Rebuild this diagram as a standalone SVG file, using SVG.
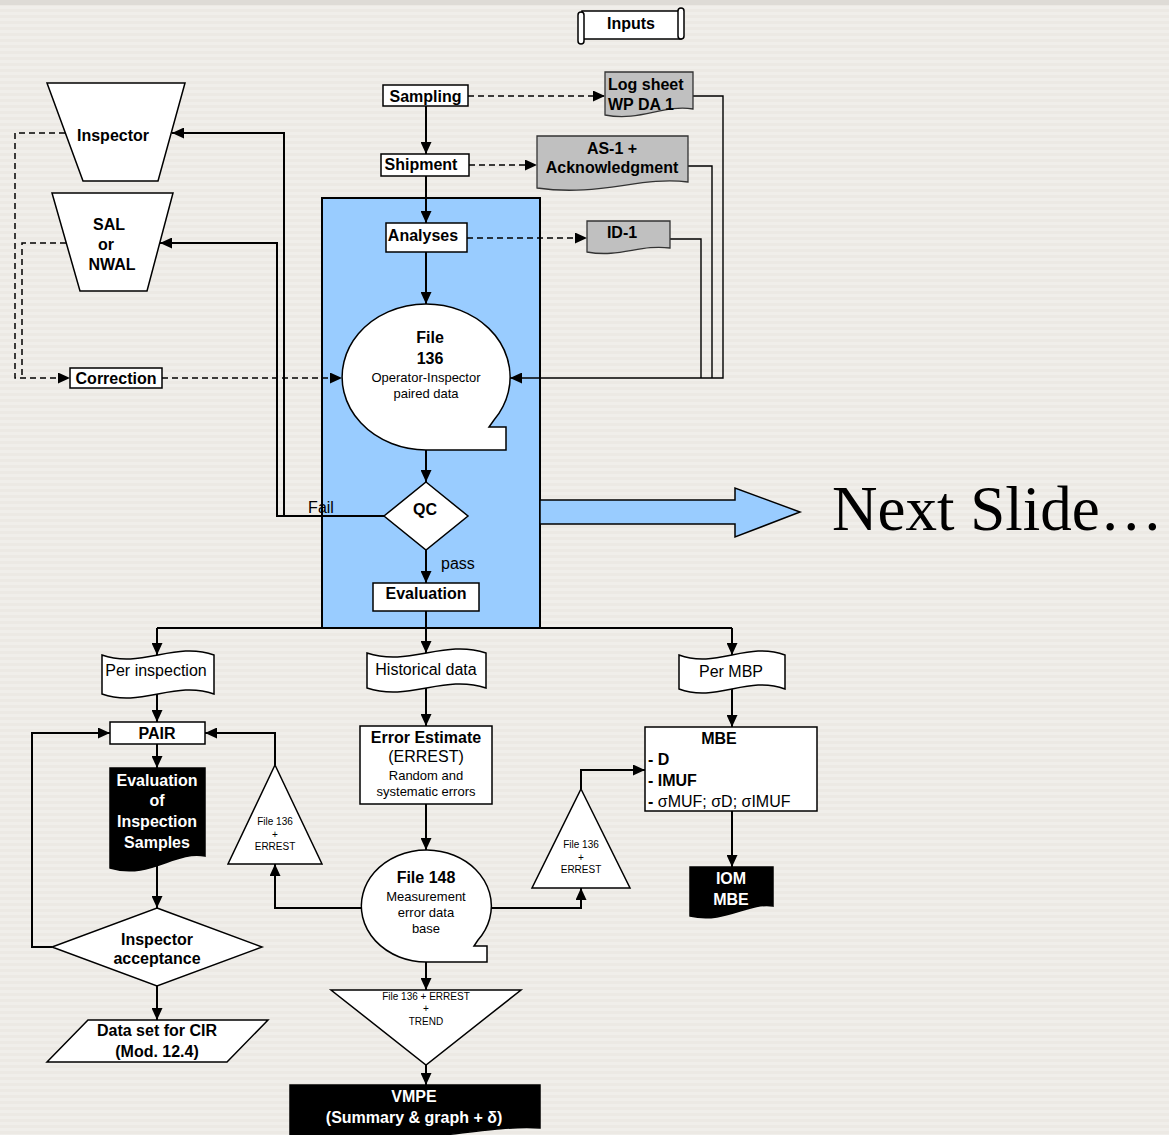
<svg xmlns="http://www.w3.org/2000/svg" width="1169" height="1135" viewBox="0 0 1169 1135">
  <defs>
    <pattern id="stripes" x="0" y="0" width="8" height="6" patternUnits="userSpaceOnUse">
      <rect width="8" height="6" fill="#ECE9E4"/>
      <rect y="0" width="8" height="3" fill="#F0EEEA"/>
    </pattern>
    <marker id="arr" markerUnits="userSpaceOnUse" markerWidth="13" markerHeight="11" refX="12" refY="5.5" orient="auto">
      <path d="M0,0 L12,5.5 L0,11 Z" fill="#000"/>
    </marker>
    <style>
      text { font-family: "Liberation Sans", Arial, sans-serif; fill: #000; text-anchor: middle; }
      .b16 { font-size: 16px; font-weight: bold; }
      .r16 { font-size: 16px; }
      .r13 { font-size: 13px; }
      .r10 { font-size: 10px; }
      .w16 { font-size: 16px; font-weight: bold; fill: #fff; }
      .l { text-anchor: start; }
      .box { fill: #fff; stroke: #000; stroke-width: 1.5; }
      .grey { fill: #C0C0C0; stroke: #333; stroke-width: 1.3; }
      .dark { fill: #000; stroke: #000; stroke-width: 1.5; }
      .c { fill: none; stroke: #000; stroke-width: 2; }
      .t { fill: none; stroke: #000; stroke-width: 1.4; }
      .d { fill: none; stroke: #000; stroke-width: 1.5; stroke-dasharray: 6 4; }
    </style>
  </defs>

  <!-- backdrop -->
  <rect width="1169" height="1135" fill="url(#stripes)"/>
  <rect width="1169" height="5" fill="#DEDBD6"/>

  <!-- process container -->
  <g id="process-area">
    <rect x="322" y="198" width="218" height="430" fill="#99CCFF" stroke="#000" stroke-width="2"/>
  </g>

  <!-- arrow to the next slide -->
  <g id="next-slide">
    <path d="M540,500 H735 V488 L800,512 L735,537 V524 H540 Z" fill="#99CCFF" stroke="#000" stroke-width="1.5"/>
    <text x="832" y="530" style="font-family:'Liberation Serif','Times New Roman',serif;font-size:63px;text-anchor:start">Next Slide…</text>
  </g>

  <!-- connectors -->
  <g id="connectors">
    <path class="c" d="M426,106 V154" marker-end="url(#arr)"/>
    <path class="c" d="M426,176 V223" marker-end="url(#arr)"/>
    <path class="c" d="M426,252 V304" marker-end="url(#arr)"/>
    <path class="c" d="M426,450 V482" marker-end="url(#arr)"/>
    <path class="c" d="M426,550 V583" marker-end="url(#arr)"/>
    <path class="c" d="M426,611 V628"/>
    <path class="c" d="M157,628 H732"/>
    <path class="c" d="M157,628 V655" marker-end="url(#arr)"/>
    <path class="c" d="M426,628 V653" marker-end="url(#arr)"/>
    <path class="c" d="M732,628 V655" marker-end="url(#arr)"/>
    <path class="c" d="M157,694 V722" marker-end="url(#arr)"/>
    <path class="c" d="M157,744 V768" marker-end="url(#arr)"/>
    <path class="c" d="M157,866 V908" marker-end="url(#arr)"/>
    <path class="c" d="M52,947 H32 V733 H110" marker-end="url(#arr)"/>
    <path class="c" d="M157,986 V1020" marker-end="url(#arr)"/>
    <path class="c" d="M275,765 V733 H205" marker-end="url(#arr)"/>
    <path class="c" d="M361,908 H275 V864" marker-end="url(#arr)"/>
    <path class="c" d="M426,688 V726" marker-end="url(#arr)"/>
    <path class="c" d="M426,804 V850" marker-end="url(#arr)"/>
    <path class="c" d="M491,908 H581 V888" marker-end="url(#arr)"/>
    <path class="c" d="M581,789 V770 H645" marker-end="url(#arr)"/>
    <path class="c" d="M732,689 V727" marker-end="url(#arr)"/>
    <path class="c" d="M732,811 V867" marker-end="url(#arr)"/>
    <path class="c" d="M426,962 V990" marker-end="url(#arr)"/>
    <path class="c" d="M426,1065 V1085" marker-end="url(#arr)"/>
    <!-- QC fail returns -->
    <path class="c" d="M384,516 H277 V243 H160" marker-end="url(#arr)"/>
    <path class="c" d="M284,516 V133 H172" marker-end="url(#arr)"/>
    <!-- input documents feeding File 136 -->
    <path class="t" d="M693,96 H723 V378 H510" marker-end="url(#arr)"/>
    <path class="t" d="M688,166 H712 V378"/>
    <path class="t" d="M670,239 H701 V378"/>
    <!-- dashed flows -->
    <path class="d" d="M468,96 H605" marker-end="url(#arr)"/>
    <path class="d" d="M469,165 H537" marker-end="url(#arr)"/>
    <path class="d" d="M467,238 H587" marker-end="url(#arr)"/>
    <path class="d" d="M65,133 H15 V378 H70" marker-end="url(#arr)"/>
    <path class="d" d="M66,243 H22 V378"/>
    <path class="d" d="M162,378 H342" marker-end="url(#arr)"/>
  </g>

  <g id="inputs">
    <rect x="582" y="11" width="99" height="28" class="box"/>
    <rect x="678" y="8" width="6" height="31" rx="3" class="box"/>
    <rect x="578" y="12" width="6" height="32" rx="3" class="box"/>
    <text x="631" y="28.5" class="b16">Inputs</text>
  </g>

  <g id="sampling">
    <rect x="383" y="85" width="85" height="21" class="box"/>
    <text x="425.5" y="101.5" class="b16">Sampling</text>
  </g>

  <g id="log-sheet">
    <path class="grey" d="M605,72 H693 V109 C664,104 640,122 605,115 Z"/>
    <text x="608" y="90" class="b16 l">Log sheet</text>
    <text x="608" y="110" class="b16 l">WP DA 1</text>
  </g>

  <g id="shipment">
    <rect x="381" y="154" width="88" height="22" class="box"/>
    <text x="421" y="170" class="b16">Shipment</text>
  </g>

  <g id="as1">
    <path class="grey" d="M537,136 H688 V182 C640,176 600,197 537,188 Z"/>
    <text x="612" y="154" class="b16">AS-1 +</text>
    <text x="612" y="173" class="b16">Acknowledgment</text>
  </g>

  <g id="analyses">
    <rect x="386" y="223" width="81" height="29" class="box"/>
    <text x="423" y="241" class="b16">Analyses</text>
  </g>

  <g id="id1">
    <path class="grey" d="M587,221 H670 V248 C640,244 620,258 587,252 Z"/>
    <text x="622" y="238" class="b16">ID-1</text>
  </g>

  <g id="inspector">
    <polygon class="box" points="47,83 185,83 158,181 83,181"/>
    <text x="113" y="141" class="b16">Inspector</text>
  </g>

  <g id="sal-nwal">
    <polygon class="box" points="52,193 173,193 147,291 80,291"/>
    <text x="109" y="230" class="b16">SAL</text>
    <text x="106" y="250" class="b16">or</text>
    <text x="112" y="270" class="b16">NWAL</text>
  </g>

  <g id="correction">
    <rect x="70" y="368" width="92" height="20" class="box"/>
    <text x="116" y="384" class="b16">Correction</text>
  </g>

  <g id="file-136">
    <path class="box" d="M426,450 A84,73 0 1 1 494,420 L489,427 L506,427 L506,450 Z"/>
    <text x="430" y="343" class="b16">File</text>
    <text x="430" y="364" class="b16">136</text>
    <text x="426" y="382" class="r13">Operator-Inspector</text>
    <text x="426" y="398" class="r13">paired data</text>
  </g>

  <g id="qc">
    <polygon class="box" points="426,482 468,516 426,550 384,516"/>
    <text x="425" y="515" class="b16">QC</text>
  </g>
  <text x="321" y="513" class="r16">Fail</text>
  <text x="441" y="569" class="r16 l">pass</text>

  <g id="evaluation">
    <rect x="373" y="583" width="106" height="28" class="box"/>
    <text x="426" y="599" class="b16">Evaluation</text>
  </g>

  <g id="per-inspection">
    <path class="box" d="M102,655 C141,669 175,641 214,655 V694 C175,680 141,708 102,694 Z"/>
    <text x="156" y="676" class="r16">Per inspection</text>
  </g>

  <g id="historical-data">
    <path class="box" d="M367,653 C409,667 444,639 486,653 V688 C444,674 409,702 367,688 Z"/>
    <text x="426" y="675" class="r16">Historical data</text>
  </g>

  <g id="per-mbp">
    <path class="box" d="M679,655 C716,669 748,641 785,655 V689 C748,675 716,703 679,689 Z"/>
    <text x="731" y="677" class="r16">Per MBP</text>
  </g>

  <g id="pair">
    <rect x="110" y="722" width="95" height="22" class="box"/>
    <text x="157" y="738.5" class="b16">PAIR</text>
  </g>

  <g id="evaluation-inspection-samples">
    <path class="dark" d="M110,768 H205 V856 C175,850 150,880 110,868 Z"/>
    <text x="157" y="786" class="w16">Evaluation</text>
    <text x="157" y="806" class="w16">of</text>
    <text x="157" y="827" class="w16">Inspection</text>
    <text x="157" y="848" class="w16">Samples</text>
  </g>

  <g id="inspector-acceptance">
    <polygon class="box" points="157,908 262,947 157,986 52,947"/>
    <text x="157" y="944.5" class="b16">Inspector</text>
    <text x="157" y="964" class="b16">acceptance</text>
  </g>

  <g id="data-set-cir">
    <polygon class="box" points="88,1020 268,1020 227,1062 47,1062"/>
    <text x="157" y="1036" class="b16">Data set for CIR</text>
    <text x="157" y="1057" class="b16">(Mod. 12.4)</text>
  </g>

  <g id="merge-left">
    <polygon class="box" points="275,765 322,864 228,864"/>
    <text x="275" y="824.5" class="r10">File 136</text>
    <text x="275" y="837.5" class="r10">+</text>
    <text x="275" y="849.5" class="r10">ERREST</text>
  </g>

  <g id="error-estimate">
    <rect x="360" y="726" width="132" height="78" class="box"/>
    <text x="426" y="743" class="b16">Error Estimate</text>
    <text x="426" y="762" class="r16">(ERREST)</text>
    <text x="426" y="780" class="r13">Random and</text>
    <text x="426" y="796" class="r13">systematic errors</text>
  </g>

  <g id="file-148">
    <path class="box" d="M426,962 A65,56 0 1 1 478,940 L474,946 L487,946 L487,962 Z"/>
    <text x="426" y="883" class="b16">File 148</text>
    <text x="426" y="901" class="r13">Measurement</text>
    <text x="426" y="917" class="r13">error data</text>
    <text x="426" y="933" class="r13">base</text>
  </g>

  <g id="merge-right">
    <polygon class="box" points="581,789 630,888 532,888"/>
    <text x="581" y="847.5" class="r10">File 136</text>
    <text x="581" y="860.5" class="r10">+</text>
    <text x="581" y="872.5" class="r10">ERREST</text>
  </g>

  <g id="mbe">
    <rect x="645" y="727" width="172" height="84" class="box"/>
    <text x="719" y="744" class="b16">MBE</text>
    <text x="648" y="765" class="b16 l">- D</text>
    <text x="648" y="786" class="b16 l">- IMUF</text>
    <text x="648" y="807" class="r16 l"><tspan font-weight="bold">- </tspan>σMUF; σD; σIMUF</text>
  </g>

  <g id="iom-mbe">
    <path class="dark" d="M690,867 H773 V906 C748,902 725,924 690,916 Z"/>
    <text x="731" y="884" class="w16">IOM</text>
    <text x="731" y="905" class="w16">MBE</text>
  </g>

  <g id="trend">
    <polygon class="box" points="331,990 521,990 426,1065"/>
    <text x="426" y="1000" class="r10">File 136 + ERREST</text>
    <text x="426" y="1012" class="r10">+</text>
    <text x="426" y="1025" class="r10">TREND</text>
  </g>

  <g id="vmpe">
    <path class="dark" d="M290,1085 H540 V1128 C480,1124 400,1150 290,1140 Z"/>
    <text x="414" y="1102" class="w16">VMPE</text>
    <text x="414" y="1123" class="w16">(Summary &amp; graph + δ)</text>
  </g>
</svg>
